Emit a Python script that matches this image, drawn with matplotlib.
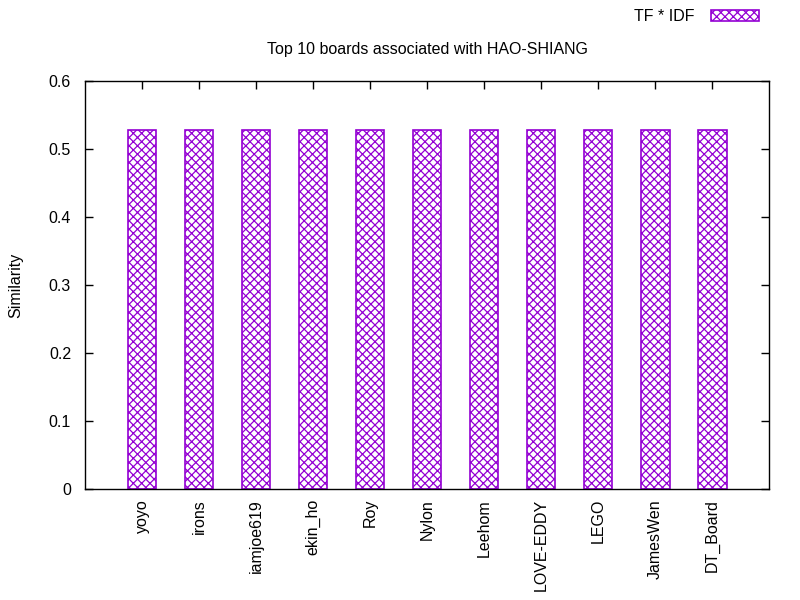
import matplotlib
matplotlib.use("Agg")
import matplotlib.pyplot as plt

boards = ["yoyo", "irons", "iamjoe619", "ekin_ho", "Roy", "Nylon", "Leehom",
          "LOVE-EDDY", "LEGO", "JamesWen", "DT_Board"]
similarity = [0.5276] * 11
series_name = "TF * IDF"
title = "Top 10 boards associated with HAO-SHIANG"
yticks = [0, 0.1, 0.2, 0.3, 0.4, 0.5, 0.6]

color = "#9400D3"
fs = 11.5
plt.rcParams["font.family"] = ["Liberation Sans", "DejaVu Sans"]
plt.rcParams["hatch.color"] = color
plt.rcParams["hatch.linewidth"] = 0.9

fig = plt.figure(figsize=(8, 6), dpi=100)
ax = fig.add_axes([0.10625, 0.1845, 0.8554, 0.681])

x = list(range(len(boards)))
bars = ax.bar(x, similarity, width=0.5, facecolor="white", edgecolor=color,
              hatch="xxxx", linewidth=1.2, label=series_name)

ax.set_xlim(-1, 11)
ax.set_ylim(0, 0.6)
ax.set_yticks(yticks)
ax.set_yticklabels(["0", "0.1", "0.2", "0.3", "0.4", "0.5", "0.6"], fontsize=fs)
ax.set_xticks(x)
ax.set_xticklabels(boards, rotation=90, fontsize=fs)
ax.tick_params(axis="x", bottom=False, top=True, direction="in", length=6,
               width=1, pad=7)
ax.tick_params(axis="y", left=True, right=True, direction="in", length=6,
               width=1, pad=10)
for s in ax.spines.values():
    s.set_linewidth(1)

ax.set_title(title, fontsize=fs, pad=19.5)
ax.set_ylabel("Similarity", fontsize=fs, labelpad=18)

leg = ax.legend(loc="upper right", bbox_to_anchor=(765 / 800, 0.995),
                bbox_transform=fig.transFigure, frameon=False, fontsize=fs,
                markerfirst=False, handlelength=3.0, handleheight=0.65,
                handletextpad=1.0, borderaxespad=0.0)

fig.savefig("out.png", dpi=100)
